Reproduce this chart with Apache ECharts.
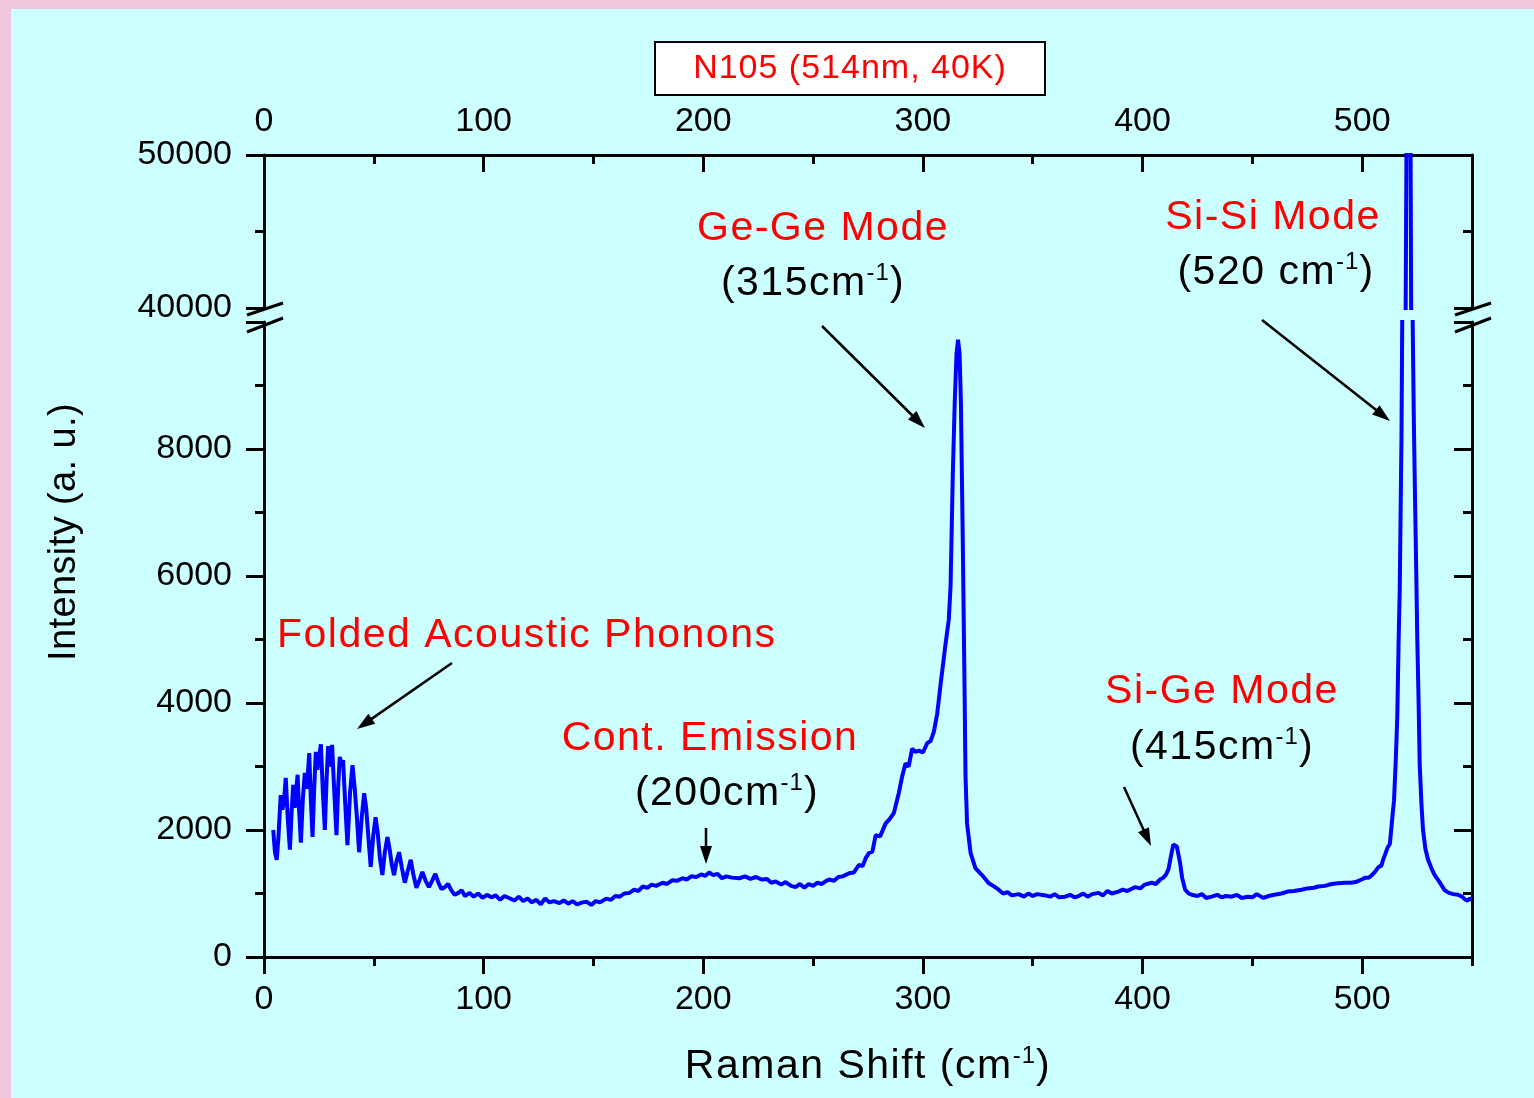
<!DOCTYPE html>
<html>
<head>
<meta charset="utf-8">
<script src="https://cdn.jsdelivr.net/npm/echarts@6/dist/echarts.min.js"></script>
<style>
  html, body { margin: 0; padding: 0; background: #f0c6de; }
  #chart { width: 1534px; height: 1098px; }
</style>
</head>
<body>
<div id="chart"></div>
<script>
// Raman spectrum of sample N105, 514 nm excitation at 40 K.
// Spectrum split into spectral regions: Raman shift (cm^-1) and intensity (a.u.).
const acousticShift = [4.2,5.0,5.8,6.6,7.6,8.4,9.2,9.9,10.8,11.8,12.6,13.3,14.0,14.6,15.3,16.0,16.8,17.7,18.6,19.3,20.0,20.6,21.3,22.1,22.9,23.6,24.3,25.1,25.9,26.8,27.7,28.5,29.2,30.1,31.0,32.0,33.0,33.8,34.5,35.3,36.0,37.0,38.0,39.2,40.3,41.3,42.3,43.3,44.5,45.6,46.5,47.5,48.6,49.7,50.8,51.8,52.8,53.9,55.0,56.2,57.2,58.2,59.2,60.3,61.5,62.8,64.1,65.4,66.8,68.0,69.4,70.7,72.1,73.6,75.1,76.5,78.0,79.4,80.8,82.3,83.8,85.3,86.8,88.5,90.0];
const acousticCounts = [2000,1650,1530,1900,2550,2320,2500,2820,2200,1690,2300,2710,2350,2600,2870,2300,1800,2500,2900,2650,2900,3210,2500,1890,2700,3230,2950,3150,3350,2600,2000,2800,3320,3000,3340,2600,1920,2700,3150,3020,3100,2400,1760,2600,3020,2650,2200,1650,2200,2580,2350,1900,1420,1900,2200,1950,1550,1290,1650,1890,1700,1450,1290,1500,1650,1400,1170,1350,1530,1300,1090,1200,1340,1200,1100,1200,1310,1170,1070,1100,1150,1050,980,1010,1050];

const continuumShift = [91.5,93.6,95.5,97.5,99.5,101.5,103.5,105.5,107.5,109.5,111.8,114,116,118,120,122,124,126,128,130,132,134.5,136.5,138.5,140.5,142.5,145,147,149,151,153,155.8,158,160,162,164,166.4,168.5,170.5,172.4,174.5,176.5,178.5,181.5,183.5,186,188,190.6,192.5,194.5,196.8,199,201,202.7,204.5,206.5,208.5,210.5,213,216.4,219,221.5,224,226.5,229,231,233,235.5,237.5,240,242,244,246,248,250,252,254,256,257.3,259.5,261.5,263.5,266.4,268.5,270.9,272.5,274,275.5,277,278.5,280.5,283,285,286.8,289,290.6,292.1,293.5,295.1,296.5,298.2,300,302,303.5,305,306.5,308,310.3,311.8,312.6,313.6,314.5];
const continuumCounts = [960,1010,950,1000,930,980,940,970,900,960,925,890,950,880,920,860,900,830,920,860,880,850,890,840,880,830,860,870,820,880,860,920,900,960,950,1000,1010,1060,1040,1110,1090,1140,1120,1170,1150,1210,1200,1240,1220,1270,1260,1300,1280,1330,1290,1310,1240,1270,1250,1240,1270,1230,1260,1220,1230,1170,1190,1140,1180,1120,1100,1150,1090,1150,1120,1170,1150,1200,1220,1200,1260,1270,1320,1330,1450,1430,1560,1640,1660,1920,1900,2100,2180,2270,2580,2850,3050,3000,3280,3230,3250,3220,3370,3400,3550,3830,4280,4930,5320,5850,7580,8740];

const geGeShift = [315.3,316.0,316.7,317.3,318.2,319.0,319.4,320.1,321.7,323.9,326.9,330,332,334.5,336.5,338.5,340.5,343.6,346,348,350,352,355.8,358,360,362,364.8,367,369,370.9,373,375,377,380,382,384,386,389,391,393,396.7,399,401,404.2,406,408,409.5,410.7];
const geGeCounts = [9500,9720,9500,8740,6430,4110,2850,2100,1640,1400,1290,1160,1120,1060,1000,1020,970,990,950,1000,960,990,970,950,990,940,950,980,940,960,1000,950,990,1010,970,1040,1000,1030,1060,1040,1100,1080,1140,1170,1150,1220,1250,1300];

const siGeShift = [411.8,413,414,414.8,415.6,416.3,417.1,418,419.4,421,422.4,425,427,429,431.5,434,436,438,440.6,443,445,448,450,452,455,457.3,460,463.3,466,469,472.4,475,478,480,483,486,489,492.1,495,497,499.7,501.5,503,504.2,505.8,507.5,508.8,509.5,510.5,511.5,512.6];
const siGeCounts = [1380,1600,1770,1780,1740,1620,1480,1250,1060,1000,980,960,990,930,950,980,940,960,950,980,930,950,940,990,930,960,980,1000,1030,1040,1060,1080,1090,1110,1120,1150,1160,1170,1170,1180,1220,1250,1250,1280,1340,1420,1440,1530,1620,1720,1780];

const siSiShift = [513.6,514.5,515.3,516,516.6,517.1,517.5,517.9,518.6,519.8,520.5,521.1,521.8,522.3,522.8,523.0,523.5,524,524.6,525.1,525.7,526.2,527,527.7,528.8,530,531.5,533,535,537.6,539.5,541.5,543.6,545.5,547,548,549,550];
const siSiCounts = [2150,2470,3100,3810,5000,5780,7000,8210,12000,40000,60000,70000,60000,40000,12000,10000,8500,7360,6100,4990,4000,3020,2400,2000,1700,1530,1400,1290,1190,1050,1010,990,980,950,900,890,920,900];

// Axis ranges and tick steps
const shiftRange = [0, 550];
const shiftStep = 100;
const shiftMinorStep = 50;
const lowRange = [0, 10000];
const lowStep = 2000;
const highRange = [40000, 50000];
const highStep = 10000;

// Annotation texts
const titleText = 'N105 (514nm, 40K)';
const xTitle = 'Raman Shift (cm';
const yTitle = 'Intensity (a. u.)';
const bandNames = ['Folded Acoustic Phonons', 'Cont. Emission', 'Ge-Ge Mode', 'Si-Ge Mode', 'Si-Si Mode'];
const bandShifts = ['', '(200cm', '(315cm', '(415cm', '(520 cm'];
const invCm = '-1';

const shift = [].concat(acousticShift, continuumShift, geGeShift, siGeShift, siSiShift);
const counts = [].concat(acousticCounts, continuumCounts, geGeCounts, siGeCounts, siSiCounts);
const spectrum = shift.map((s, i) => [s, counts[i]]);

const FONT = 'Liberation Sans, Arial, sans-serif';
const BLUE = '#0000ff';
const RED = '#ff0000';

const labelStyle = { color: '#000', fontSize: 34, fontFamily: FONT, formatter: v => String(v) };
const lineStyle = { color: '#000', width: 3 };

function xAxisPair(gridIndex, position, showLabels) {
  return [
    {
      type: 'value', gridIndex, position, min: shiftRange[0], max: shiftRange[1], interval: shiftStep,
      axisLine: { show: true, lineStyle },
      axisTick: { show: true, inside: position === 'top', length: 17, lineStyle },
      axisLabel: { show: showLabels, margin: position === 'top' ? 16 : 26, showMaxLabel: false, ...labelStyle },
      splitLine: { show: false }
    },
    {
      type: 'value', gridIndex, position, min: shiftRange[0], max: shiftRange[1], interval: shiftMinorStep,
      axisLine: { show: false },
      axisTick: { show: true, inside: position === 'top', length: 9, lineStyle },
      axisLabel: { show: false },
      splitLine: { show: false }
    }
  ];
}

function yAxisPair(gridIndex, range, step, hideMax) {
  return [
    {
      type: 'value', gridIndex, position: 'left', min: range[0], max: range[1], interval: step,
      axisLine: { show: true, onZero: false, lineStyle },
      axisTick: { show: true, inside: false, length: 18, lineStyle },
      minorTick: { show: true, splitNumber: 2, length: 9, lineStyle },
      axisLabel: { margin: 32, showMaxLabel: !hideMax, ...labelStyle },
      splitLine: { show: false }
    },
    {
      type: 'value', gridIndex, position: 'right', min: range[0], max: range[1], interval: step,
      axisLine: { show: true, onZero: false, lineStyle },
      axisTick: { show: true, inside: true, length: 18, lineStyle },
      minorTick: { show: true, splitNumber: 2, length: 9, lineStyle },
      axisLabel: { show: false },
      splitLine: { show: false }
    }
  ];
}

function arrow(x1, y1, x2, y2) {
  const a = Math.atan2(y2 - y1, x2 - x1);
  const L = 18, W = 6;
  const c = Math.cos(a), s = Math.sin(a);
  const bx = x2 - L * c, by = y2 - L * s;
  return [
    { type: 'line', z: 50, shape: { x1, y1, x2: bx + 2 * c, y2: by + 2 * s }, style: { stroke: '#000', lineWidth: 2.5 } },
    { type: 'polygon', z: 50, shape: { points: [[x2, y2], [bx - s * W, by + c * W], [bx + s * W, by - c * W]] }, style: { fill: '#000' } }
  ];
}

// Rich-text styles; each glyph is its own token so the padding acts as letter spacing.
const rich = {
  r: { fontSize: 41, fontFamily: FONT, fill: RED, lineHeight: 46, padding: [0, 1.5, 0, 0] },
  k: { fontSize: 41, fontFamily: FONT, fill: '#000', lineHeight: 46, padding: [0, 1.5, 0, 0] },
  s: { fontSize: 24, fontFamily: FONT, fill: '#000', lineHeight: 46, verticalAlign: 'top', padding: [0, 1, 0, 0] },
  t: { fontSize: 34, fontFamily: FONT, fill: RED, lineHeight: 40, padding: [0, 1, 0, 0] },
  y: { fontSize: 38, fontFamily: FONT, fill: '#000', lineHeight: 42, padding: [0, 0.4, 0, 0] }
};

function spaced(str, key) {
  return str.split('').map(ch => '{' + key + '|' + ch + '}').join('');
}

function withInverseCm(str) {
  return spaced(str, 'k') + spaced(invCm, 's') + spaced(')', 'k');
}

function label(str, x, y, align, rotation) {
  return { type: 'text', z: 50, x, y, rotation: rotation || 0, style: { text: str, rich, align: align || 'center', verticalAlign: 'middle' } };
}

function breakMarks(x) {
  return [
    { type: 'line', z: 40, shape: { x1: x - 17, y1: 315, x2: x + 19, y2: 303 }, style: { stroke: '#000', lineWidth: 3 } },
    { type: 'line', z: 40, shape: { x1: x - 17, y1: 332, x2: x + 19, y2: 318 }, style: { stroke: '#000', lineWidth: 3 } }
  ];
}

const chart = echarts.init(document.getElementById('chart'));

const graphics = [
  { type: 'rect', z: -100, shape: { x: 11, y: 9, width: 1523, height: 1089 }, style: { fill: '#ccffff' } },
  { type: 'rect', z: 50, shape: { x: 655, y: 42, width: 390, height: 53 }, style: { fill: '#fff', stroke: '#000', lineWidth: 2 } },
  label(spaced(titleText, 't'), 850, 69),
  label(spaced(yTitle, 'y'), 65, 532, 'center', Math.PI / 2),
  label(withInverseCm(xTitle), 868, 1067),
  label(spaced(bandNames[0], 'r'), 277, 636, 'left'),
  label(spaced(bandNames[1], 'r'), 710, 739),
  label(withInverseCm(bandShifts[1]), 727, 794),
  label(spaced(bandNames[2], 'r'), 823, 229),
  label(withInverseCm(bandShifts[2]), 813, 284),
  label(spaced(bandNames[3], 'r'), 1222, 692),
  label(withInverseCm(bandShifts[3]), 1222, 748),
  label(spaced(bandNames[4], 'r'), 1273, 218),
  label(withInverseCm(bandShifts[4]), 1276, 273),
  ...arrow(452, 663, 357, 729),
  ...arrow(706, 828, 706, 864),
  ...arrow(822, 326, 925, 428),
  ...arrow(1124, 787, 1151, 846),
  ...arrow(1262, 320, 1390, 421),
  ...breakMarks(264),
  ...breakMarks(1472)
];

chart.setOption({
  animation: false,
  backgroundColor: '#f0c6de',
  grid: [
    { left: 264, right: 62, top: 322, height: 635 },
    { left: 264, right: 62, top: 155, height: 153 }
  ],
  xAxis: [
    ...xAxisPair(0, 'bottom', true),
    ...xAxisPair(1, 'top', true)
  ],
  yAxis: [
    ...yAxisPair(0, lowRange, lowStep, true),
    ...yAxisPair(1, highRange, highStep, false)
  ],
  series: [
    { type: 'line', xAxisIndex: 0, yAxisIndex: 0, data: spectrum, showSymbol: false, clip: true,
      lineStyle: { color: BLUE, width: 4 }, z: 10 },
    { type: 'line', xAxisIndex: 2, yAxisIndex: 2, data: spectrum, showSymbol: false, clip: true,
      lineStyle: { color: BLUE, width: 4 }, z: 10 }
  ],
  graphic: graphics
});
</script>
</body>
</html>
